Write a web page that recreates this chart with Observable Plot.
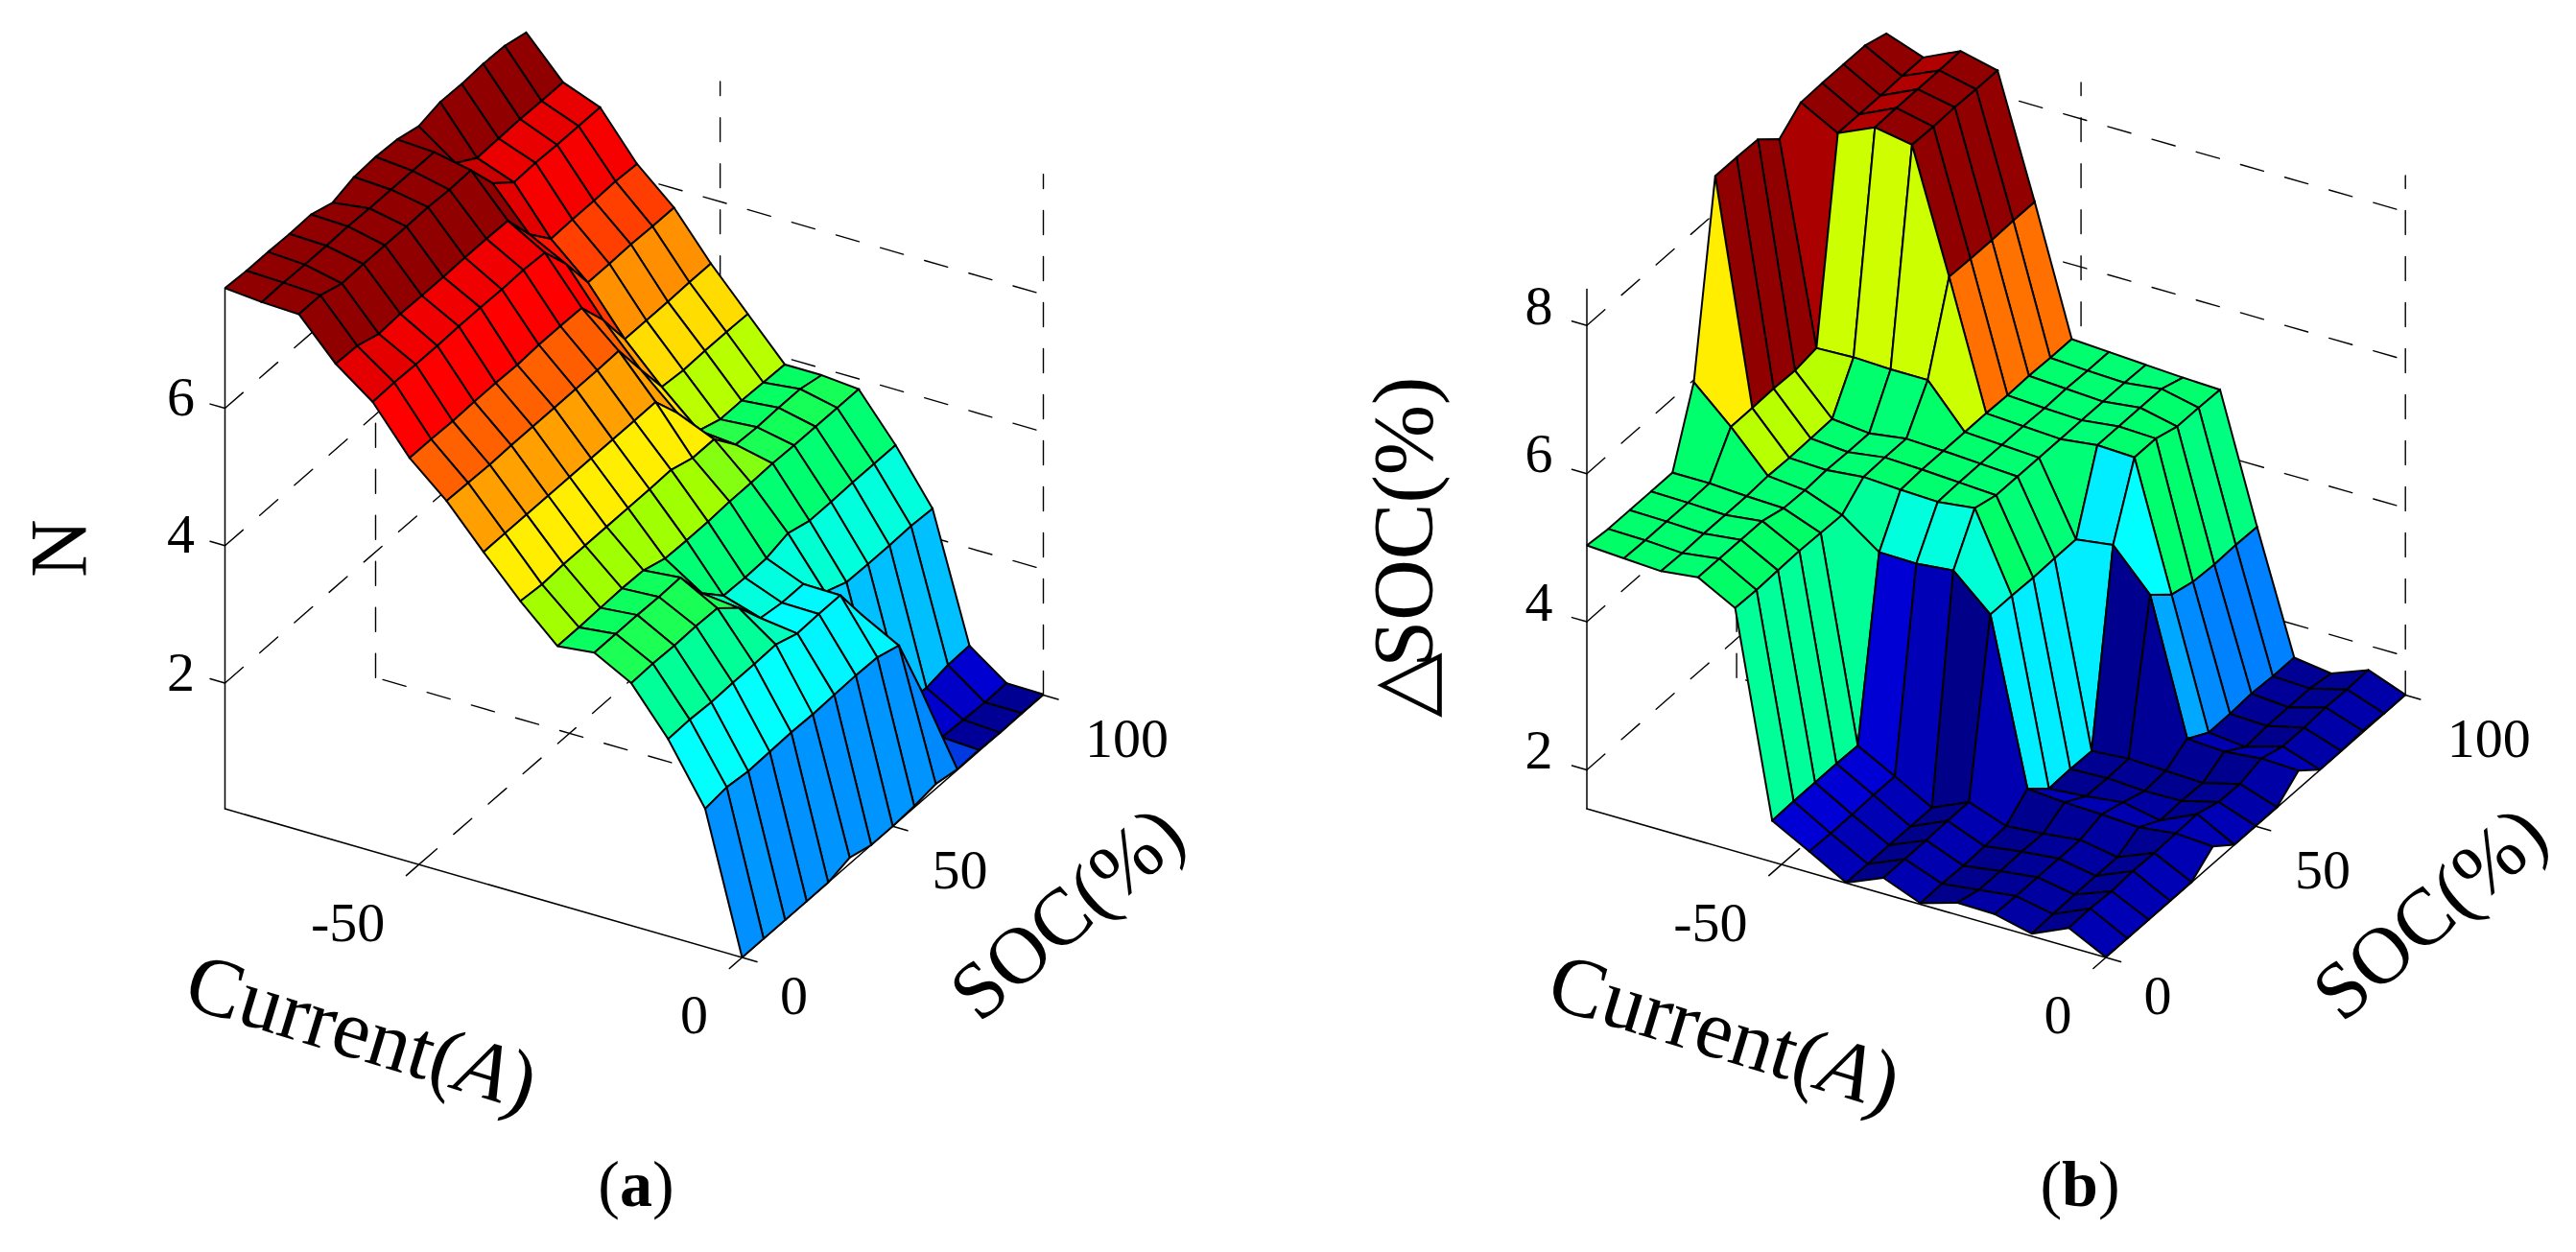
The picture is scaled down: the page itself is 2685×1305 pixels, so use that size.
<!DOCTYPE html>
<html>
<head>
<meta charset="utf-8">
<script src="https://cdn.jsdelivr.net/npm/d3@7"></script>
<script src="https://cdn.jsdelivr.net/npm/@observablehq/plot@0.6"></script>
<style>
html,body{margin:0;padding:0;background:#fff;width:2685px;height:1305px;overflow:hidden}
#row{display:flex;width:2685px;height:1190px}
#caps{position:relative;width:2685px;height:115px;font-family:"Liberation Serif",serif;font-size:68px;color:#000}
#caps span{position:absolute;top:5px;transform:translateX(-50%);line-height:78px;white-space:pre}
svg{display:block;overflow:visible}
</style>
</head>
<body>
<div id="row"></div>
<div id="caps"><span style="left:663px">(<b>a</b>)</span><span style="left:2168px">(<b>b</b>)</span></div>
<script>
// axis grids
const currents=[0,-5.71,-11.43,-17.14,-22.86,-28.57,-34.29,-40,-45.71,-51.43,-57.14,-62.86,-68.57,-74.29,-80];
const socs=[0,7.14,14.29,21.43,28.57,35.71,42.86,50,57.14,64.29,71.43,78.57,85.71,92.86,100];

// panel (a): N, one list per current value, ordered by SOC
const n00=[.17,.17,.17,.17,.17,.26,.17,.17,.19,.24,.18,.19,.17,.18,.18];
const n01=[2.18,2.22,2.18,2.19,2.2,2.19,2.2,2.21,2.2,2.1,1.2,.22,.2,.18,.19];
const n02=[3.04,3.05,3.03,3.04,3.04,3.05,2.94,2.95,2.95,2.39,.56,.55,.51,.57,.58];
const n03=[3.7,3.71,3.7,3.71,3.7,3.43,3.01,2.96,2.96,2.57,2.44,2.43,2.43,2.44,2.42];
const n04=[3.99,3.99,3.99,3.98,3.99,3.49,3.18,3.17,3.18,3.27,3.18,3.18,3.19,3.19,3.19];
const n05=[3.93,3.93,3.94,3.95,3.94,3.84,3.83,3.83,3.85,3.85,3.86,3.85,3.85,3.85,3.85];
const n06=[4.43,4.4,4.42,4.42,4.42,4.42,4.42,4.43,4.33,4.33,3.98,3.96,3.97,3.97,3.9];
const n07=[4.99,4.99,4.99,4.99,4.99,4.99,4.99,4.99,4.99,4.56,4.03,3.92,3.92,3.91,3.9];
const n08=[5.58,5.57,5.56,5.57,5.57,5.57,5.57,5.57,5.58,5.04,4.51,4.48,4.49,4.49,4.48];
const n09=[6.05,6.05,6.04,6.05,6.05,6.04,6.06,6.06,6.05,5.6,5.05,5.05,5.05,5.06,5.06];
const n10=[6.71,6.72,6.71,6.71,6.72,6.72,6.71,6.72,6.7,6.26,5.72,5.72,5.73,5.72,5.72];
const n11=[7.11,7.1,7.0,7.02,7.01,7.01,7.02,7.02,7.01,6.54,6.2,6.21,6.21,6.22,6.2];
const n12=[7.68,7.68,7.58,7.59,7.59,7.59,7.6,7.58,7.59,7.13,6.87,6.88,6.87,6.87,6.87];
const n13=[7.7,7.71,7.7,7.7,7.71,7.7,7.7,7.7,7.7,7.27,7.07,7.08,7.09,7.08,7.08];
const n14=[7.75,7.73,7.73,7.72,7.73,7.63,7.73,7.75,7.73,7.65,7.73,7.72,7.74,7.73,7.65];

// panel (b): delta SOC, one list per current value, ordered by SOC
const d00=[1.48,1.48,1.48,1.48,1.48,1.71,1.48,1.48,1.48,1.72,1.48,1.48,1.5,1.48,1.48];
const d01=[1.73,1.74,1.72,1.74,1.73,1.74,1.75,1.66,1.65,1.74,1.65,1.65,1.67,1.66,1.67];
const d02=[1.51,1.52,1.53,1.53,1.53,1.68,1.52,1.53,1.52,1.69,1.5,1.53,1.53,1.53,1.48];
const d03=[1.63,1.62,1.62,1.62,1.62,1.71,1.62,1.52,1.54,1.72,1.55,1.55,1.57,1.55,1.55];
const d04=[1.64,1.56,1.56,1.57,1.56,1.73,1.56,1.55,1.56,3.52,3.27,3.19,3.17,3.18,3.17];
const d05=[1.49,1.5,1.49,1.5,1.52,1.77,1.52,1.53,1.52,4.05,4.98,4.98,4.89,4.89,4.88];
const d06=[1.69,1.69,1.69,1.7,1.7,3.98,3.98,3.97,3.98,3.98,5.0,5.0,5.0,5.0,4.9];
const d07=[1.48,1.48,1.48,1.48,1.48,4.43,5.02,4.94,4.94,4.94,4.94,4.94,4.94,4.94,4.93];
const d08=[1.76,1.75,1.75,1.76,1.76,4.38,4.96,4.97,4.97,4.97,4.97,4.96,4.97,4.96,4.96];
const d09=[2.03,2.04,2.04,2.04,2.03,4.39,4.98,5.0,5.0,5.0,5.0,4.99,5.0,4.99,4.99];
const d10=[4.76,4.75,4.76,4.77,4.76,4.75,5.01,5.02,5.02,5.56,6.7,6.69,6.69,6.7,6.7];
const d11=[5.03,5.03,5.03,5.03,4.95,4.94,4.96,4.95,4.95,5.56,8.34,8.33,8.34,8.33,8.33];
const d12=[4.97,4.96,4.97,4.97,4.97,4.99,4.98,4.99,5.0,5.58,8.43,8.44,8.44,8.44,8.45];
const d13=[5.0,4.99,4.99,4.99,5.0,5.51,5.51,5.52,5.51,5.56,8.21,8.21,8.21,8.22,8.22];
const d14=[5.03,5.0,5.0,5.0,5.0,5.97,8.5,8.5,8.49,8.24,8.48,8.49,8.49,8.49,8.4];

// tick labels
const currentTicks=[-50,0];
const socTicks=[0,50,100];
const nTicks=[2,4,6];
const dTicks=[2,4,6,8];

// colour ramps, read from the facets
const nStops=[.17,.57,2.18,2.43,3.03,3.18,3.7,3.9,4.42,4.49,4.99,5.05,5.58,5.72,6.05,6.2,6.71,7.05,7.59,7.75];
const nColors=["#000090","#0000d0","#0090ff","#00bfff","#00ffff","#00ffdd","#00ff99","#00ff66","#a0ff00","#b8ff00","#ffee00","#ffdd00","#ff9f00","#ff9000","#ff6000","#ff4000","#ff0000","#ee0000","#900000","#900000"];
const dStops=[1.48,1.7,2.04,3.17,3.52,3.98,4.05,4.39,4.76,5.03,5.51,5.56,5.97,6.7,7.5,8.22,8.34,8.5];
const dColors=["#000088","#0000b0","#0000d5","#0080ff","#00a8ff","#00eeff","#00ffff","#00ffdd","#00ff99","#00ff66","#b8ff00","#ccff00","#ffee00","#ff7000","#ff0000","#b00000","#900000","#900000"];

// label offsets from the tick each label belongs to
const curOffset=new Map([[-50,[-74,61]],[0,[-50,60]]]);
const socOffset=new Map([[0,[54,40]],[50,[70,46]],[100,[87,46]]]);

function panel(cfg){
  const {rows,zMin,zMax,F,L,R,zPx,ticks,stops,colors,width,height}=cfg;
  const P=(c,s,z)=>({
    x:F[0]+(c/-80)*(L[0]-F[0])+(s/100)*(R[0]-F[0]),
    y:F[1]+(c/-80)*(L[1]-F[1])+(s/100)*(R[1]-F[1])-(z-zMin)*zPx
  });
  // facets, far corner first so that nearer ones paint over them
  const facets=[];
  for(let i=13;i>=0;i--)for(let j=13;j>=0;j--){
    const v=rows[i+1][j];
    const corners=[[i,j],[i,j+1],[i+1,j+1],[i+1,j],[i,j]];
    for(const [a,b] of corners){
      const p=P(currents[a],socs[b],rows[a][b]);
      facets.push({x:p.x,y:p.y,cell:`${i}-${j}`,v});
    }
  }
  const dashed=[];
  const solid=[];
  let k=0;
  const add=(list,a,b)=>{list.push({...a,id:k},{...b,id:k});k++;};
  // floor grid
  add(dashed,P(0,50,zMin),P(-80,50,zMin));
  add(dashed,P(-50,0,zMin),P(-50,100,zMin));
  // wall grids
  for(const z of ticks){
    add(dashed,P(-80,0,z),P(-80,100,z));
    add(dashed,P(-80,100,z),P(0,100,z));
  }
  add(dashed,P(-80,50,zMin),P(-80,50,zMax));
  add(dashed,P(-50,100,zMin),P(-50,100,zMax));
  add(dashed,P(0,100,zMin),P(0,100,zMax));
  add(solid,P(-80,0,zMin),P(-80,0,zMax));
  add(solid,P(-80,0,zMin),P(0,0,zMin));
  add(solid,P(0,0,zMin),P(0,100,zMin));
  for(const z of ticks)add(solid,P(-80,0,z),P(-82.3,0,z));
  for(const c of currentTicks)add(solid,P(c,0,zMin),P(c,-4.2,zMin));
  for(const s of socTicks)add(solid,P(0,s,zMin),P(2.3,s,zMin));

  const serif="Liberation Serif";
  const T=(rows2,o)=>Plot.text(rows2,{x:"x",y:"y",text:"t",fontFamily:serif,fill:"#000",...o});
  const marks=[
    Plot.line(dashed,{x:"x",y:"y",z:"id",stroke:"#000",strokeWidth:1.4,strokeDasharray:"25 23"}),
    Plot.line(solid,{x:"x",y:"y",z:"id",stroke:"#000",strokeWidth:1.5}),
    Plot.line(facets,{x:"x",y:"y",z:"cell",fill:"v",stroke:"#000",strokeWidth:2,strokeLinejoin:"miter",strokeMiterlimit:2}),
    ...ticks.map(z=>T([{...P(-80,0,z),t:String(z)}],{fontSize:58,dx:cfg.zLabelDx,dy:cfg.zLabelDy})),
    ...currentTicks.map(c=>T([{...P(c,0,zMin),t:String(c)}],{fontSize:58,dx:curOffset.get(c)[0],dy:curOffset.get(c)[1]})),
    ...socTicks.map(s=>T([{...P(0,s,zMin),t:String(s)}],{fontSize:58,dx:socOffset.get(s)[0],dy:socOffset.get(s)[1]})),
    T([{...P(-80,0,(zMin+zMax)/2),t:cfg.zTitle}],{fontSize:cfg.zTitleSize,rotate:-90,dx:cfg.zTitleDx,dy:cfg.zTitleDy,className:"z-title"}),
    T([{...P(-40,0,zMin),t:"Current(A)"}],{fontSize:87,rotate:17,dx:-127,dy:156,className:"cur-title"}),
    T([{...P(0,50,zMin),t:"SOC(%)"}],{fontSize:84,rotate:-41,dx:182,dy:91})
  ];
  const chart=Plot.plot({
    width,height,margin:0,
    x:{domain:[0,width],range:[0,width],axis:null},
    y:{domain:[0,height],range:[0,height],axis:null},
    color:{type:"linear",domain:stops,range:colors,clamp:true},
    style:{background:"transparent",overflow:"visible"},
    marks
  });
  // italic A in the current title
  d3.select(chart).selectAll(".cur-title text").each(function(){
    const t=d3.select(this);
    t.text("Current(");
    t.append("tspan").attr("font-style","italic").text("A");
    t.append("tspan").text(")");
  });
  // the delta sign crowds the S, as in the source figure
  d3.select(chart).selectAll(".z-title text").each(function(){
    const t=d3.select(this);
    const s=t.text();
    if(s.startsWith("△")){
      t.text("△");
      t.append("tspan").attr("dx",-16).text(s.slice(1));
    }
  });
  return chart;
}

const row=document.getElementById("row");
row.append(panel({
  rows:[n00,n01,n02,n03,n04,n05,n06,n07,n08,n09,n10,n11,n12,n13,n14],
  zMin:.17,zMax:7.75,F:[773,997.5],L:[234,842.5],R:[1087,724],zPx:71.6,
  ticks:nTicks,stops:nStops,colors:nColors,width:1340,height:1190,
  zLabelDx:-46,zLabelDy:-11,
  zTitle:"N",zTitleSize:84,zTitleDx:-171,zTitleDy:0
}));
row.append(panel({
  rows:[d00,d01,d02,d03,d04,d05,d06,d07,d08,d09,d10,d11,d12,d13,d14],
  zMin:1.475,zMax:8.49,F:[854.5,997.5],L:[313.5,842.5],R:[1166.7,724],zPx:77.2,
  ticks:dTicks,stops:dStops,colors:dColors,width:1345,height:1190,
  zLabelDx:-50,zLabelDy:-20,
  zTitle:"△SOC(%)",zTitleSize:88,zTitleDx:-190,zTitleDy:-2
}));
</script>
</body>
</html>
